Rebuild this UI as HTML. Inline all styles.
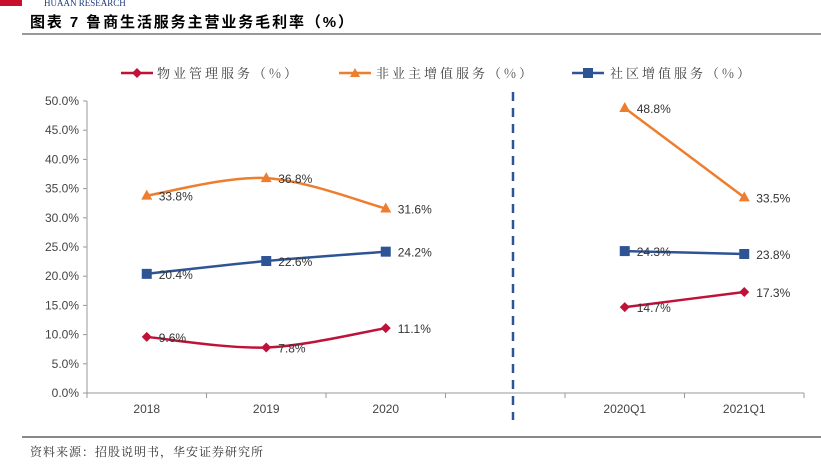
<!DOCTYPE html>
<html><head><meta charset="utf-8"><style>
body{margin:0;background:#fff;}
svg text{font-family:"Liberation Sans","Noto Sans CJK SC",sans-serif;}
</style></head><body>
<svg width="821" height="463" viewBox="0 0 821 463" xmlns="http://www.w3.org/2000/svg">
<rect x="0" y="0" width="22" height="6" fill="#c8102e"/>
<text x="44" y="6" font-size="9" fill="#1a3a7a" style="font-family:'Liberation Serif',serif">HUAAN RESEARCH</text>
<text x="30" y="27" font-size="15" font-weight="bold" fill="#000" letter-spacing="1.9">图表 7 鲁商生活服务主营业务毛利率（%）</text>
<line x1="22" y1="34" x2="821" y2="34" stroke="#333" stroke-width="1"/>
<line x1="22" y1="437" x2="821" y2="437" stroke="#888" stroke-width="2"/>
<text x="30" y="456" font-size="12" fill="#333" letter-spacing="1" style="font-family:'Noto Serif CJK SC',serif">资料来源：招股说明书，华安证券研究所</text>
<g id="legend">
<g><line x1="121" y1="73" x2="153" y2="73" stroke="#c0113a" stroke-width="2.5"/><polygon points="137,68 142,73 137,78 132,73" fill="#c0113a"/><text x="157" y="78" font-size="13" fill="#444" letter-spacing="3" style="font-family:'Noto Serif CJK SC',serif">物业管理服务（%）</text></g>
<g><line x1="339" y1="73" x2="371" y2="73" stroke="#ee7d2e" stroke-width="2.5"/><polygon points="355,68 360,77 350,77" fill="#ee7d2e"/><text x="376" y="78" font-size="13" fill="#444" letter-spacing="3" style="font-family:'Noto Serif CJK SC',serif">非业主增值服务（%）</text></g>
<g><line x1="572" y1="73" x2="604" y2="73" stroke="#2f5496" stroke-width="2.5"/><rect x="583" y="68" width="10" height="10" fill="#2f5496"/><text x="610" y="78" font-size="13" fill="#444" letter-spacing="3" style="font-family:'Noto Serif CJK SC',serif">社区增值服务（%）</text></g>
</g>
<g id="axes"></g>
<g id="series"></g>
</svg>
<script>
const categories = ["2018","2019","2020","","2020Q1","2021Q1"];
const yTicks = [0,5,10,15,20,25,30,35,40,45,50];
const propertyVals = [9.6,7.8,11.1,null,14.7,17.3];
const nonOwnerVals = [33.8,36.8,31.6,null,48.8,33.5];
const communityVals = [20.4,22.6,24.2,null,24.3,23.8];
const NS="http://www.w3.org/2000/svg";
const x0=87,x1=804,y0=393,y1=101;
const bw=(x1-x0)/categories.length;
function xs(i){return x0+bw*(i+0.5);}
function ys(v){return y0-(v/50)*(y0-y1);}
function el(t,a,p){const e=document.createElementNS(NS,t);for(const k in a)e.setAttribute(k,a[k]);p.appendChild(e);return e;}
const ax=document.getElementById('axes');
const axisLine=el('line',{x1:x0,y1:y0,x2:x1,y2:y0,stroke:'#999','stroke-width':1},ax);


const yLine=el('line',{x1:x0,y1:y1,x2:x0,y2:y0,stroke:'#999','stroke-width':1},ax);


yTicks.forEach(v=>{
 const t=el('text',{x:x0-8,y:ys(v)+4,'font-size':12,fill:'#444','text-anchor':'end'},ax);t.textContent=v.toFixed(1)+'%';
 
 
 el('line',{x1:x0-4,y1:ys(v),x2:x0,y2:ys(v),stroke:'#999'},ax);
});
for(let i=0;i<=categories.length;i++){el('line',{x1:x0+bw*i,y1:y0,x2:x0+bw*i,y2:y0+5,stroke:'#999'},ax);}
categories.forEach((c,i)=>{
 const t=el('text',{x:xs(i),y:y0+20,'font-size':12,fill:'#444','text-anchor':'middle'},ax);t.textContent=c;
 
 
});
const dl=el('line',{x1:513,y1:92,x2:513,y2:420,stroke:'#2f5496','stroke-width':2.5,'stroke-dasharray':'9,7'},ax);


const sg=document.getElementById('series');
function smooth(pts){
 let d='M'+pts[0][0]+','+pts[0][1];
 for(let i=0;i<pts.length-1;i++){
  const p0=pts[i-1]||pts[i],p1=pts[i],p2=pts[i+1],p3=pts[i+2]||p2;
  const c1=[p1[0]+(p2[0]-p0[0])/6,p1[1]+(p2[1]-p0[1])/6],c2=[p2[0]-(p3[0]-p1[0])/6,p2[1]-(p3[1]-p1[1])/6];
  d+=`C${c1[0]},${c1[1]} ${c2[0]},${c2[1]} ${p2[0]},${p2[1]}`;
 }
 return d;
}
function series(vals,color,marker,name){
 const g=el('g',{},sg);
 
 
 let segs=[],cur=[];
 vals.forEach((v,i)=>{if(v==null){if(cur.length)segs.push(cur);cur=[];}else cur.push([xs(i),ys(v)]);});
 if(cur.length)segs.push(cur);
 segs.forEach(s=>{const p=el('path',{d:smooth(s),fill:'none',stroke:color,'stroke-width':2.5},g);
  
  });
 vals.forEach((v,i)=>{if(v==null)return;const x=xs(i),y=ys(v);let m;
  if(marker==='d')m=el('polygon',{points:`${x},${y-5} ${x+5},${y} ${x},${y+5} ${x-5},${y}`,fill:color},g);
  else if(marker==='t')m=el('polygon',{points:`${x},${y-6} ${x+5.5},${y+4} ${x-5.5},${y+4}`,fill:color},g);
  else m=el('rect',{x:x-5,y:y-5,width:10,height:10,fill:color},g);
  
  
  const t=el('text',{x:x+12,y:y+5,'font-size':12,fill:'#333'},g);t.textContent=v.toFixed(1)+'%';
  
  
 });
}
series(nonOwnerVals,'#ee7d2e','t','nonowner');
series(communityVals,'#2f5496','s','community');
series(propertyVals,'#c0113a','d','property');
</script>
</body></html>
